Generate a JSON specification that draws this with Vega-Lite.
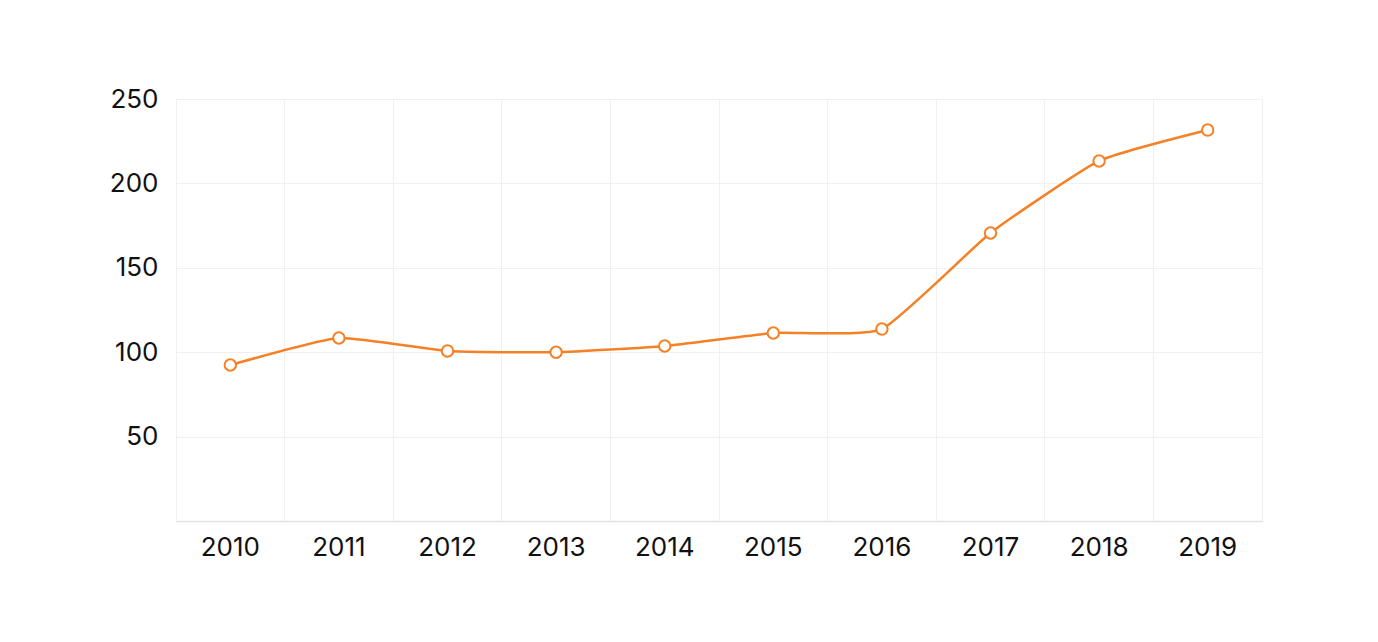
{
  "$schema": "https://vega.github.io/schema/vega-lite/v6.json",
  "autosize": "none",
  "width": 1086,
  "height": 422,
  "padding": {"left": 176, "top": 99, "right": 116, "bottom": 121},
  "background": "white",
  "config": {
    "view": {"stroke": "#f0f0f0", "strokeWidth": 1},
    "font": "Inter"
  },
  "data": {
    "values": [
      {"year": "2010", "value": 92.4},
      {"year": "2011", "value": 108.4},
      {"year": "2012", "value": 100.7},
      {"year": "2013", "value": 100},
      {"year": "2014", "value": 103.7},
      {"year": "2015", "value": 111.4},
      {"year": "2016", "value": 113.7},
      {"year": "2017", "value": 170.6},
      {"year": "2018", "value": 213.3},
      {"year": "2019", "value": 231.6}
    ]
  },
  "encoding": {
    "x": {
      "field": "year",
      "type": "ordinal",
      "scale": {"type": "band", "paddingInner": 0, "paddingOuter": 0},
      "axis": {
        "title": null,
        "labelAngle": 0,
        "labelFontSize": 26,
        "labelColor": "#111111",
        "labelPadding": 13,
        "bandPosition": 0,
        "grid": true,
        "gridColor": "#f0f0f0",
        "ticks": false,
        "domainColor": "#e2e2e2",
        "domainWidth": 1.5
      }
    },
    "y": {
      "field": "value",
      "type": "quantitative",
      "scale": {"domain": [0, 250]},
      "axis": {
        "title": null,
        "values": [50, 100, 150, 200, 250],
        "labelFontSize": 26,
        "labelColor": "#111111",
        "labelPadding": 18,
        "grid": true,
        "gridColor": "#f0f0f0",
        "ticks": false,
        "domain": false
      }
    }
  },
  "layer": [
    {
      "mark": {"type": "line", "interpolate": "cardinal", "tension": 0.55, "color": "#f58025", "strokeWidth": 2.5}
    },
    {
      "mark": {"type": "point", "filled": true, "fill": "white", "stroke": "#f58025", "strokeWidth": 2, "size": 130, "opacity": 1}
    }
  ]
}
